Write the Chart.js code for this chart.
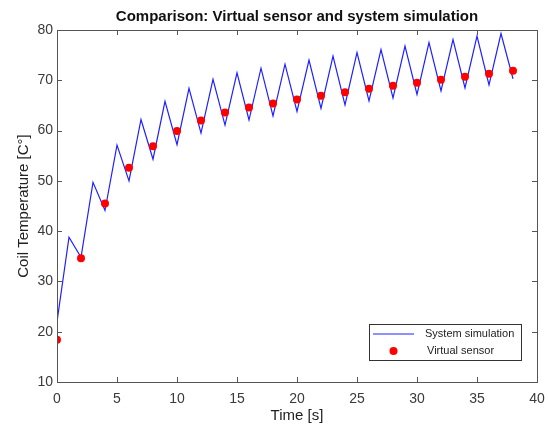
<!DOCTYPE html>
<html>
<head>
<meta charset="utf-8">
<script src="https://cdn.jsdelivr.net/npm/chart.js@4.4.1/dist/chart.umd.min.js"></script>
<style>
  html, body { margin: 0; padding: 0; background: #fff; }
  #wrap { width: 548px; height: 428px; }
</style>
</head>
<body>
<div id="wrap"><canvas id="chart"></canvas></div>
<script>
// Simulation du système (pics et creux à chaque seconde)
const simTime = [0, 1, 2, 3, 4, 5, 6, 7, 8, 9, 10, 11, 12, 13, 14, 15, 16, 17, 18, 19,
                 20, 21, 22, 23, 24, 25, 26, 27, 28, 29, 30, 31, 32, 33, 34, 35, 36, 37, 38];
const simTemp = [22.0, 38.8, 34.8, 49.7, 44.1, 57.1, 50.0, 62.2, 54.3, 65.8, 57.2, 68.4, 59.5,
                 70.2, 61.1, 71.5, 62.1, 72.4, 62.9, 73.2, 63.8, 74.0, 64.4, 74.8, 65.1, 75.5,
                 65.9, 76.1, 66.5, 76.8, 67.2, 77.5, 67.9, 78.1, 68.5, 78.8, 69.1, 79.3, 70.3];

// Capteur virtuel (toutes les 2 s)
const sensorTime = [0, 2, 4, 6, 8, 10, 12, 14, 16, 18, 20, 22, 24, 26, 28, 30, 32, 34, 36, 38];
const sensorTemp = [18.4, 34.6, 45.5, 52.6, 56.9, 59.9, 62.0, 63.6, 64.6, 65.4,
                    66.2, 66.9, 67.6, 68.3, 68.9, 69.5, 70.1, 70.7, 71.3, 71.9];

// Graduations
const xTicks = [0, 5, 10, 15, 20, 25, 30, 35, 40];
const yTicks = [10, 20, 30, 40, 50, 60, 70, 80];

const FONT = '"Liberation Sans", Arial, sans-serif';

// Titre centré sur la zone de tracé
const titlePlugin = {
    id: 'matlabTitle',
    afterDraw(chart) {
        const { ctx, chartArea: a } = chart;
        ctx.save();
        ctx.fillStyle = '#111';
        ctx.font = 'bold 15px ' + FONT;
        ctx.textAlign = 'center';
        ctx.textBaseline = 'middle';
        ctx.fillText('Comparison: Virtual sensor and system simulation', (a.left + a.right) / 2, 17);
        ctx.restore();
    }
};

// Cadre + graduations intérieures sur les 4 côtés
const framePlugin = {
    id: 'frameTicks',
    afterDatasetsDraw(chart) {
        const { ctx, chartArea: a, scales: { x, y } } = chart;
        const len = 5;
        ctx.save();
        ctx.strokeStyle = '#555';
        ctx.lineWidth = 1;
        ctx.beginPath();
        xTicks.forEach(v => {
            const px = Math.round(x.getPixelForValue(v)) + 0.5;
            ctx.moveTo(px, a.bottom); ctx.lineTo(px, a.bottom - len);
            ctx.moveTo(px, a.top); ctx.lineTo(px, a.top + len);
        });
        yTicks.forEach(v => {
            const py = Math.round(y.getPixelForValue(v)) + 0.5;
            ctx.moveTo(a.left, py); ctx.lineTo(a.left + len, py);
            ctx.moveTo(a.right, py); ctx.lineTo(a.right - len, py);
        });
        ctx.stroke();
        ctx.strokeRect(Math.round(a.left) + 0.5, Math.round(a.top) + 0.5,
                       Math.round(a.right - a.left), Math.round(a.bottom - a.top));
        ctx.restore();
    }
};

// Légende encadrée en bas à droite
const legendPlugin = {
    id: 'boxLegend',
    afterDraw(chart) {
        const { ctx } = chart;
        const bx = 369.5, by = 324.5, bw = 152, bh = 36;
        ctx.save();
        ctx.fillStyle = '#fff';
        ctx.fillRect(bx, by, bw, bh);
        ctx.strokeStyle = '#333';
        ctx.lineWidth = 1;
        ctx.strokeRect(bx, by, bw, bh);
        ctx.strokeStyle = '#2020ff';
        ctx.lineWidth = 1.2;
        ctx.beginPath();
        ctx.moveTo(373, 334); ctx.lineTo(414, 334);
        ctx.stroke();
        ctx.fillStyle = '#ff0000';
        ctx.beginPath();
        ctx.arc(393.5, 351, 4, 0, Math.PI * 2);
        ctx.fill();
        ctx.fillStyle = '#222';
        ctx.font = '11px ' + FONT;
        ctx.textAlign = 'left';
        ctx.textBaseline = 'middle';
        ctx.fillText('System simulation', 425, 334);
        ctx.fillText('Virtual sensor', 427, 351);
        ctx.restore();
    }
};

document.addEventListener('DOMContentLoaded', function() {
    const ctx = document.getElementById('chart').getContext('2d');
    new Chart(ctx, {
        type: 'scatter',
        data: {
            datasets: [
                {
                    label: 'Virtual sensor',
                    data: sensorTime.map((t, i) => ({ x: t, y: sensorTemp[i] })),
                    showLine: false,
                    pointRadius: 4,
                    pointBackgroundColor: '#ff0000',
                    pointBorderWidth: 0,
                    order: 0
                },
                {
                    label: 'System simulation',
                    data: simTime.map((t, i) => ({ x: t, y: simTemp[i] })),
                    showLine: true,
                    borderColor: '#2020ff',
                    borderWidth: 1.2,
                    pointRadius: 0,
                    tension: 0,
                    order: 1
                }
            ]
        },
        options: {
            responsive: true,
            maintainAspectRatio: false,
            animation: false,
            layout: {
                padding: { left: 0, right: 11, top: 30, bottom: 0 }
            },
            plugins: {
                legend: { display: false },
                title: { display: false },
                tooltip: { enabled: false }
            },
            scales: {
                x: {
                    type: 'linear',
                    min: 0,
                    max: 40,
                    afterFit: s => { s.height = 46; s.paddingLeft = 0; s.paddingRight = 0; },
                    afterBuildTicks: s => { s.ticks = xTicks.map(v => ({ value: v })); },
                    grid: { display: false, drawTicks: false },
                    border: { display: false },
                    ticks: {
                        color: '#3a3a3a',
                        padding: 9,
                        font: { family: FONT, size: 14 }
                    },
                    title: {
                        display: true,
                        text: 'Time [s]',
                        color: '#222',
                        font: { family: FONT, size: 15 },
                        padding: { top: 0, bottom: 3 }
                    }
                },
                y: {
                    type: 'linear',
                    min: 10,
                    max: 80,
                    afterFit: s => { s.width = 57; s.paddingTop = 0; s.paddingBottom = 0; },
                    afterBuildTicks: s => { s.ticks = yTicks.map(v => ({ value: v })); },
                    grid: { display: false, drawTicks: false },
                    border: { display: false },
                    ticks: {
                        color: '#3a3a3a',
                        padding: 4,
                        font: { family: FONT, size: 14 }
                    },
                    title: {
                        display: true,
                        text: 'Coil Temperature [C°]',
                        color: '#222',
                        font: { family: FONT, size: 15 },
                        padding: { top: 15, bottom: 0 }
                    }
                }
            }
        },
        plugins: [framePlugin, titlePlugin, legendPlugin]
    });
});
</script>
</body>
</html>
